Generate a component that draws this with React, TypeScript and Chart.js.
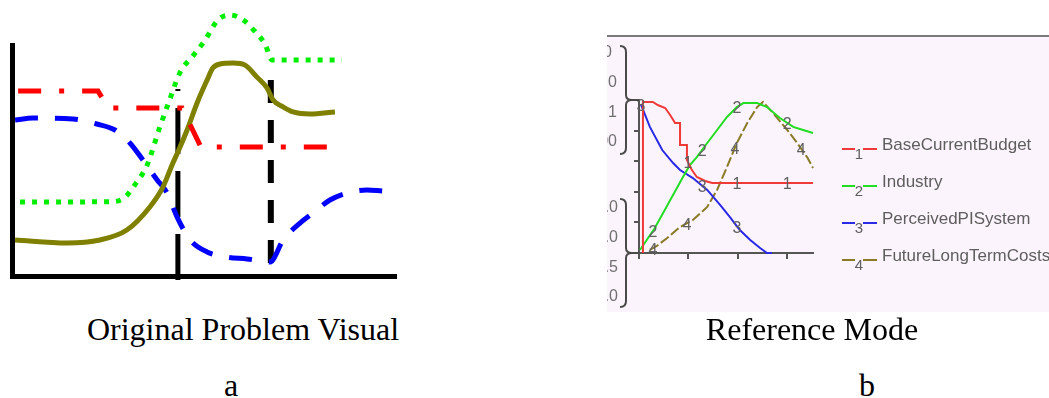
import React, { useEffect, useRef } from "react";
import { Chart, registerables } from "chart.js";

Chart.register(...registerables);

// ---------- Panel a: Original Problem Visual (sketch units 0..100) ----------
const budgetVisualX = [1.6, 22.4, 25.0, 44.3, 49.2, 86.2];
const budgetVisualY = [80.1, 80.1, 72.7, 72.7, 55.8, 55.8];

const industryVisualX = [2.1, 26.3, 29.2, 32.0, 35.2, 38.5, 41.0, 43.8, 47.0, 50.3, 53.6, 56.8, 60.5, 63.8, 65.9, 67.7, 85.9];
const industryVisualY = [32.0, 32.2, 33.8, 39.5, 48.1, 64.5, 76.0, 88.3, 95.0, 102.2, 110.8, 113.0, 110.5, 104.8, 100.4, 93.5, 93.5];

const perceivedVisualX = [0.8, 5.5, 15.9, 22.1, 26.8, 30.7, 34.1, 37.8, 40.4, 43.0, 46.4, 50.8, 55.9, 61.2, 67.2, 70.6, 75.0, 78.4, 82.8, 87.2, 92.4, 96.4];
const perceivedVisualY = [67.5, 68.4, 68.0, 65.8, 63.2, 57.6, 50.2, 41.6, 35.9, 25.5, 15.6, 10.4, 8.2, 7.4, 6.1, 15.6, 22.9, 27.3, 32.9, 35.9, 37.2, 36.8];

const futureVisualX = [0.8, 14.3, 22.9, 29.9, 35.9, 39.3, 41.9, 43.2, 45.6, 48.2, 50.8, 52.3, 54.2, 57.6, 60.7, 63.8, 66.4, 68.0, 70.6, 73.2, 77.6, 84.1];
const futureVisualY = [15.6, 14.3, 15.6, 19.9, 29.9, 38.5, 48.9, 53.7, 63.2, 74.9, 84.8, 90.0, 91.8, 92.2, 91.3, 86.1, 81.4, 76.2, 73.2, 71.0, 70.1, 71.0];

const markerAX = [43.2, 43.2];
const markerAY = [-1.7, 81.0];
const markerBX = [67.4, 67.4];
const markerBY = [5.6, 85.3];

// ---------- Panel b: Reference Mode (time 0..35, percent of range) ----------
const refNames = ["BaseCurrentBudget", "Industry", "PerceivedPISystem", "FutureLongTermCosts"];
const refColors = ["#f03a3a", "#22dd22", "#2a2ae6", "#8a7a26"];

const budgetRefX = [0.8, 0.8, 2.8, 3.8, 5.3, 6.3, 7.3, 8.3, 8.3, 9.7, 9.7, 10.7, 11.7, 13.4, 14.8, 35.2];
const budgetRefY = [0, 98.7, 98.7, 96.7, 94.8, 90.2, 85.0, 85.0, 70.6, 70.6, 60.8, 54.2, 49.7, 47.1, 45.8, 45.8];

const industryRefX = [0.2, 3.2, 8.9, 10.3, 11.7, 13.8, 15.8, 17.8, 19.8, 21.1, 23.9, 25.9, 28.5, 31.2, 33.2, 35.2];
const industryRefY = [2.0, 16.3, 49.7, 57.5, 62.7, 71.9, 80.4, 88.9, 95.4, 98.0, 98.0, 95.4, 88.2, 82.4, 80.4, 78.4];

const perceivedRefX = [0.4, 2.2, 4.7, 6.9, 8.3, 10.9, 13.8, 16.4, 18.4, 20.4, 22.5, 24.5, 25.9, 26.9];
const perceivedRefY = [97.0, 82.4, 67.3, 58.8, 54.2, 49.0, 41.2, 31.4, 23.5, 15.0, 8.5, 3.3, 0, 0];

const futureRefX = [2.2, 3.6, 5.7, 8.3, 10.9, 13.8, 15.8, 17.8, 19.8, 21.9, 23.9, 25.1, 27.1, 30.0, 32.0, 34.0, 35.2];
const futureRefY = [2.0, 4.6, 9.8, 17.0, 21.6, 30.1, 41.2, 56.2, 71.9, 85.0, 95.4, 98.7, 91.5, 80.4, 71.9, 62.7, 55.6];

// times at which the series number is printed on each curve
const budgetMarks = [9.9, 19.8, 30];
const industryMarks = [2.8, 12.8, 19.8, 30];
const perceivedMarks = [0.4, 12.8, 19.8];
const futureMarks = [2.8, 9.7, 19.4, 32.8];
const markSets = [budgetMarks, industryMarks, perceivedMarks, futureMarks];

// clipped multi-scale axis labels (Vensim style)
const upperScaleLabels = ["0", ".0", ".1", "00"];
const lowerScaleLabels = [".0", ".0", ".5", ".0"];

const captionTop = "Original Problem Visual";
const captionTopB = "Reference Mode";
const letterA = "a";
const letterB = "b";

const zip = (xs: number[], ys: number[]) => xs.map((x, i) => ({ x, y: ys[i] }));

function interp(data: { x: number; y: number }[], x: number) {
  for (let i = 0; i < data.length - 1; i++) {
    const a = data[i], b = data[i + 1];
    if (a.x !== b.x && x >= a.x && x <= b.x) {
      return a.y + ((x - a.x) / (b.x - a.x)) * (b.y - a.y);
    }
  }
  return data[0].y;
}

function LeftChart() {
  const ref = useRef<HTMLCanvasElement>(null);
  useEffect(() => {
    const hidden = {
      type: "linear" as const,
      min: 0,
      max: 100,
      grid: { display: false, drawTicks: false },
      ticks: { display: false },
      border: { color: "#000", width: 5 },
    };
    const chart = new Chart(ref.current!, {
      type: "line",
      data: {
        datasets: [
          {
            data: zip(budgetVisualX, budgetVisualY),
            borderColor: "#ff0000",
            borderWidth: 5,
            borderDash: [23, 18, 5, 18],
            tension: 0,
            clip: false,
            order: 1,
          } as any,
          {
            data: zip(futureVisualX, futureVisualY),
            borderColor: "#808000",
            borderWidth: 5,
            cubicInterpolationMode: "monotone",
            clip: false,
            order: 2,
          },
          {
            data: zip(industryVisualX, industryVisualY),
            borderColor: "#00ee00",
            borderWidth: 5,
            borderDash: [5, 7],
            cubicInterpolationMode: "monotone",
            clip: false,
            order: 3,
          },
          {
            data: zip(perceivedVisualX, perceivedVisualY),
            borderColor: "#0000ff",
            borderWidth: 5,
            borderDash: [23, 17],
            cubicInterpolationMode: "monotone",
            clip: false,
            order: 4,
          },
          {
            data: zip(markerAX, markerAY),
            borderColor: "#000",
            borderWidth: 5,
            borderDash: [46, 17],
            borderDashOffset: 0,
            tension: 0,
            clip: false,
            order: 5,
          },
          {
            data: zip(markerBX, markerBY),
            borderColor: "#000",
            borderWidth: 6,
            borderDash: [23, 17],
            tension: 0,
            clip: false,
            order: 6,
          },
        ],
      },
      options: {
        animation: false,
        responsive: false,
        events: [],
        layout: { padding: { left: 12, top: 45, right: 4, bottom: 14 } },
        plugins: { legend: { display: false }, tooltip: { enabled: false } },
        elements: { point: { radius: 0 }, line: { borderCapStyle: "butt" } },
        scales: { x: hidden, y: hidden },
      },
    });
    return () => chart.destroy();
  }, []);
  return (
    <canvas
      ref={ref}
      width={400}
      height={290}
      style={{ position: "absolute", left: 0, top: 0, width: 400, height: 290 }}
    />
  );
}

function RightChart() {
  const ref = useRef<HTMLCanvasElement>(null);
  useEffect(() => {
    const decor = {
      id: "vensimDecor",
      afterDatasetsDraw(chart: any) {
        const ctx = chart.ctx;
        const xs = chart.scales.x;
        const ys = chart.scales.y;
        ctx.save();
        ctx.font = '16px "Liberation Sans"';
        ctx.fillStyle = "#606060";
        ctx.textAlign = "center";
        ctx.textBaseline = "middle";
        chart.data.datasets.forEach((ds: any, i: number) => {
          markSets[i].forEach((mx) => {
            const my = interp(ds.data, mx);
            ctx.fillText(String(i + 1), xs.getPixelForValue(mx), ys.getPixelForValue(my) + 2);
          });
        });
        ctx.restore();
      },
      afterDraw(chart: any) {
        const ctx = chart.ctx;
        const area = chart.chartArea;
        ctx.save();
        // brackets
        ctx.strokeStyle = "#4a4a4a";
        ctx.lineWidth = 2;
        const bx = area.left - 13;
        const drawBracket = (cy: number) => {
          const h = 54;
          ctx.beginPath();
          ctx.moveTo(bx - 6, cy - h);
          ctx.quadraticCurveTo(bx, cy - h, bx, cy - h + 6);
          ctx.lineTo(bx, cy - 5);
          ctx.quadraticCurveTo(bx, cy, bx + 6, cy);
          ctx.quadraticCurveTo(bx, cy, bx, cy + 5);
          ctx.lineTo(bx, cy + h - 6);
          ctx.quadraticCurveTo(bx, cy + h, bx - 6, cy + h);
          ctx.stroke();
          ctx.beginPath();
          ctx.moveTo(bx + 4, cy);
          ctx.lineTo(area.left, cy);
          ctx.stroke();
        };
        drawBracket(area.top);
        drawBracket(area.bottom);
        // clipped scale labels
        ctx.font = '16px "Liberation Sans"';
        ctx.fillStyle = "#707070";
        ctx.textAlign = "right";
        ctx.textBaseline = "middle";
        const offs = [-45, -15, 15, 44];
        upperScaleLabels.forEach((t, i) => ctx.fillText(t, i === 0 ? 5 : 10, area.top + offs[i] - 2));
        lowerScaleLabels.forEach((t, i) => ctx.fillText(t, 11, area.bottom + offs[i]));
        // legend
        chart.data.datasets.forEach((ds: any, i: number) => {
          const y = area.top + 49 + i * 37;
          const x0 = area.right + 29;
          ctx.strokeStyle = refColors[i];
          ctx.lineWidth = 2;
          ctx.beginPath();
          ctx.moveTo(x0, y);
          ctx.lineTo(x0 + 13, y);
          ctx.moveTo(x0 + 21, y);
          ctx.lineTo(x0 + 35, y);
          ctx.stroke();
          ctx.fillStyle = "#5e5e5e";
          ctx.textAlign = "center";
          ctx.textBaseline = "middle";
          ctx.font = '15px "Liberation Sans"';
          ctx.fillText(String(i + 1), x0 + 17, y + 6);
          ctx.textAlign = "left";
          ctx.textBaseline = "alphabetic";
          ctx.font = '17px "Liberation Sans"';
          ctx.fillText(ds.label, x0 + 40, y + 1);
        });
        ctx.restore();
      },
    };

    const series = [
      zip(budgetRefX, budgetRefY),
      zip(industryRefX, industryRefY),
      zip(perceivedRefX, perceivedRefY),
      zip(futureRefX, futureRefY),
    ];
    const chart = new Chart(ref.current!, {
      type: "line",
      data: {
        datasets: series.map((d, i) => ({
          label: refNames[i],
          data: d,
          borderColor: refColors[i],
          borderWidth: 2,
          borderDash: i === 3 ? [10, 3] : [],
          tension: 0,
          clip: false,
        })) as any,
      },
      options: {
        animation: false,
        responsive: false,
        events: [],
        layout: { padding: { left: 27, top: 63, right: 236, bottom: 53 } },
        plugins: { legend: { display: false }, tooltip: { enabled: false } },
        elements: { point: { radius: 0 } },
        scales: {
          x: {
            type: "linear",
            min: 0,
            max: 35.2,
            ticks: { display: false, stepSize: 10, includeBounds: false },
            grid: { display: true, drawOnChartArea: false, drawTicks: true, tickLength: 6, color: "#555", lineWidth: 2 },
            border: { color: "#555", width: 2 },
          },
          y: {
            type: "linear",
            min: 0,
            max: 100,
            ticks: { display: false, stepSize: 20 },
            grid: { display: true, drawOnChartArea: false, drawTicks: true, tickLength: 5, color: "#555", lineWidth: 2 },
            border: { color: "#555", width: 2 },
          },
        },
      },
      plugins: [decor],
    });
    return () => chart.destroy();
  }, []);
  return (
    <canvas
      ref={ref}
      width={442}
      height={275}
      style={{ position: "absolute", left: 607, top: 37, width: 442, height: 275, background: "#fcf4fc" }}
    />
  );
}

const captionStyle = (center: number, top: number): React.CSSProperties => ({
  position: "absolute",
  left: center - 200,
  width: 400,
  top,
  textAlign: "center",
  fontFamily: '"Liberation Serif", "Times New Roman", serif',
  fontSize: 32,
  lineHeight: "32px",
  whiteSpace: "nowrap",
  color: "#000",
});

export default function App() {
  return (
    <div style={{ position: "absolute", left: 0, top: 0, width: 1049, height: 398, background: "#fff", overflow: "hidden" }}>
      <LeftChart />
      <div style={{ position: "absolute", left: 607, top: 35, width: 442, height: 3, background: "#7a7a7a" }} />
      <RightChart />
      <div style={captionStyle(243, 313)}>{captionTop}</div>
      <div style={captionStyle(231, 369)}>{letterA}</div>
      <div style={captionStyle(812, 313)}>{captionTopB}</div>
      <div style={captionStyle(867, 369)}>{letterB}</div>
    </div>
  );
}
